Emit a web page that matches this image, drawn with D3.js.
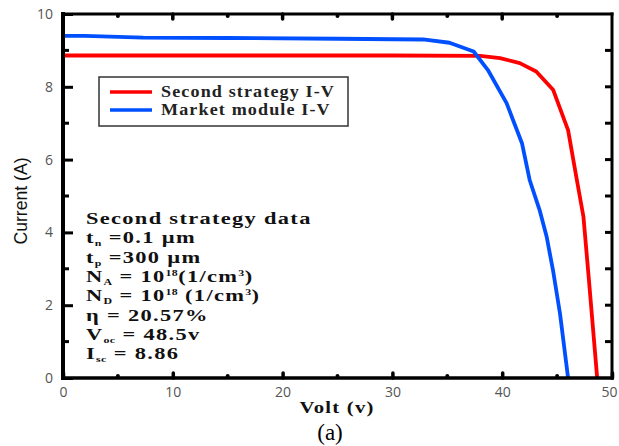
<!DOCTYPE html>
<html>
<head>
<meta charset="utf-8">
<script src="https://cdn.jsdelivr.net/npm/d3@7"></script>
<style>
  html, body { margin: 0; padding: 0; background: #fff; }
  svg { display: block; }
</style>
</head>
<body>
<svg id="chart" width="619" height="446"></svg>
<script>
// I-V curve data: voltage (V) and current (A)
const secondV = [0, 10, 20, 30, 38, 39.8, 41.6, 43.1, 44.65, 46.0, 46.8, 47.4, 47.9, 48.65];
const secondI = [8.86, 8.86, 8.86, 8.86, 8.85, 8.79, 8.65, 8.42, 7.91, 6.81, 5.44, 4.43, 2.69, 0];
const marketV = [0, 2, 7.3, 15, 25, 32.8, 35.2, 37.4, 38.7, 40.4, 41.8, 42.5, 43.4, 44.05, 44.65, 45.26, 46.0];
const marketI = [9.40, 9.40, 9.35, 9.34, 9.32, 9.30, 9.21, 8.97, 8.46, 7.55, 6.45, 5.44, 4.62, 3.88, 2.92, 1.78, 0];

const xMajor = [0, 10, 20, 30, 40, 50];
const xMinor = [5, 15, 25, 35, 45];
const yMajor = [0, 2, 4, 6, 8, 10];
const yMinor = [1, 3, 5, 7, 9];

const legendLabels = ["Second strategy I-V", "Market module I-V"];
const seriesColors = ["#ff0000", "#0050ff"];

const svg = d3.select("#chart");
const L = 63, R = 612, T = 14, B = 378;

const x = d3.scaleLinear().domain([0, 50]).range([L, R]);
const y = d3.scaleLinear().domain([0, 10]).range([B, T]);

// curves
const line = d3.line().x(d => x(d[0])).y(d => y(d[1]));
const series = [
  d3.zip(secondV, secondI),
  d3.zip(marketV, marketI)
];
svg.append("g").selectAll("path").data(series).join("path")
  .attr("d", line)
  .attr("fill", "none")
  .attr("stroke", (d, i) => seriesColors[i])
  .attr("stroke-width", 3.8)
  .attr("stroke-linejoin", "round");

// frame
const frame = svg.append("g").attr("stroke", "#000").attr("stroke-linecap", "square");
frame.append("line").attr("x1", L).attr("x2", L).attr("y1", T).attr("y2", B).attr("stroke-width", 4);
frame.append("line").attr("x1", L).attr("x2", R).attr("y1", B).attr("y2", B).attr("stroke-width", 3.5);
frame.append("line").attr("x1", L).attr("x2", R).attr("y1", T).attr("y2", T).attr("stroke-width", 3);
frame.append("line").attr("x1", R).attr("x2", R).attr("y1", T).attr("y2", B).attr("stroke-width", 3);

const tickFont = "Open Sans, sans-serif";

// left axis (inward ticks)
const leftAxis = d3.axisLeft(y).tickValues(yMajor).tickSize(-10).tickPadding(10).tickFormat(d3.format("d"));
const gl = svg.append("g").attr("transform", `translate(${L},0)`).call(leftAxis);
gl.select(".domain").remove();
gl.selectAll(".tick line").attr("stroke-width", 3);
gl.selectAll(".tick text").attr("font-family", tickFont).attr("font-size", 14).attr("fill", "#555");
svg.append("g").selectAll("line").data(yMinor).join("line")
  .attr("x1", L).attr("x2", L + 6).attr("y1", d => y(d)).attr("y2", d => y(d))
  .attr("stroke", "#000").attr("stroke-width", 3);

// right axis ticks
svg.append("g").selectAll("line").data(d3.range(1, 10)).join("line")
  .attr("x1", R).attr("x2", R - 7).attr("y1", d => y(d)).attr("y2", d => y(d))
  .attr("stroke", "#000").attr("stroke-width", 3);

// bottom axis
const bottomAxis = d3.axisBottom(x).tickValues(xMajor).tickSize(-5).tickPadding(9).tickFormat(d3.format("d"));
const gb = svg.append("g").attr("transform", `translate(0,${B})`).call(bottomAxis);
gb.select(".domain").remove();
gb.selectAll(".tick line").attr("stroke-width", 3.5).attr("stroke-linecap", "round");
gb.selectAll(".tick text").attr("font-family", tickFont).attr("font-size", 14).attr("fill", "#555");
// keep the last label inside the page edge
gb.selectAll(".tick text").filter(d => d === 50).attr("text-anchor", "end").attr("dx", 5);
svg.append("g").selectAll("circle").data(xMinor).join("circle")
  .attr("cx", d => x(d)).attr("cy", B - 2).attr("r", 2).attr("fill", "#000");

// top ticks
svg.append("g").selectAll("line").data(xMajor.slice(1, -1)).join("line")
  .attr("x1", d => x(d)).attr("x2", d => x(d)).attr("y1", T).attr("y2", T + 5)
  .attr("stroke", "#000").attr("stroke-width", 3.5).attr("stroke-linecap", "round");
svg.append("g").selectAll("circle").data(xMinor).join("circle")
  .attr("cx", d => x(d)).attr("cy", T + 2).attr("r", 2).attr("fill", "#000");

// axis titles
svg.append("text")
  .attr("transform", `translate(27,${(T + B) / 2 + 5}) rotate(-90)`)
  .attr("text-anchor", "middle")
  .attr("font-family", "Liberation Sans, Arial, sans-serif")
  .attr("font-size", 19)
  .attr("textLength", 87)
  .attr("lengthAdjust", "spacingAndGlyphs")
  .attr("fill", "#111")
  .text("Current (A)");

// horizontally widened serif text helper
function wideText(parent, x0, y0, sx) {
  return parent.append("g").attr("transform", `translate(${x0},${y0}) scale(${sx},1)`)
    .append("text").attr("x", 0).attr("y", 0);
}

wideText(svg, 337, 413, 1.22)
  .attr("text-anchor", "middle")
  .attr("font-family", "Liberation Serif, serif")
  .attr("font-weight", "bold")
  .attr("font-size", 17)
  .attr("letter-spacing", 1)
  .attr("fill", "#111")
  .text("Volt (v)");

svg.append("text")
  .attr("x", 330).attr("y", 440)
  .attr("text-anchor", "middle")
  .attr("font-family", "Liberation Serif, serif")
  .attr("font-size", 23)
  .attr("fill", "#000")
  .text("(a)");

// legend
const lg = svg.append("g");
lg.append("rect").attr("x", 99).attr("y", 77).attr("width", 249).attr("height", 49)
  .attr("fill", "#fff").attr("stroke", "#333").attr("stroke-width", 1.5);
legendLabels.forEach((lab, i) => {
  const yy = 92 + i * 18;
  lg.append("line").attr("x1", 110).attr("x2", 152).attr("y1", yy).attr("y2", yy)
    .attr("stroke", seriesColors[i]).attr("stroke-width", 3.5);
  wideText(lg, 161, yy + 5, 1.13)
    .attr("font-family", "Liberation Serif, serif").attr("font-weight", "bold")
    .attr("font-size", 16).attr("letter-spacing", 1).attr("fill", "#222")
    .text(lab);
});

// parameter annotation
const noteLines = [
  [["Second strategy data", ""]],
  [["t", ""], ["n", "sub"], [" =0.1 \u00b5m", ""]],
  [["t", ""], ["p", "sub"], [" =300 \u00b5m", ""]],
  [["N", ""], ["A", "sub"], [" = 10", ""], ["18", "sup"], ["(1/cm", ""], ["3", "sup"], [")", ""]],
  [["N", ""], ["D", "sub"], [" = 10", ""], ["18", "sup"], [" (1/cm", ""], ["3", "sup"], [")", ""]],
  [["\u03b7", ""], [" = 20.57%", ""]],
  [["V", ""], ["oc", "sub"], ["  = 48.5v", ""]],
  [["I", ""], ["sc", "sub"], ["  = 8.86", ""]]
];
const note = svg.append("g")
  .attr("font-family", "Liberation Serif, serif")
  .attr("font-weight", "bold")
  .attr("fill", "#111");
noteLines.forEach((parts, i) => {
  const t = wideText(note, 86, 224 + i * 19.3, 1.32)
    .attr("font-size", 17).attr("letter-spacing", 1);
  let off = 0;
  parts.forEach(([s, kind]) => {
    const ts = t.append("tspan").text(s);
    if (kind === "sub") { ts.attr("font-size", 9).attr("dy", 3 - off).attr("letter-spacing", 0.3); off = 3; }
    else if (kind === "sup") { ts.attr("font-size", 9).attr("dy", -6 - off).attr("letter-spacing", 0.3); off = -6; }
    else if (off !== 0) { ts.attr("dy", -off); off = 0; }
  });
});
</script>
</body>
</html>
